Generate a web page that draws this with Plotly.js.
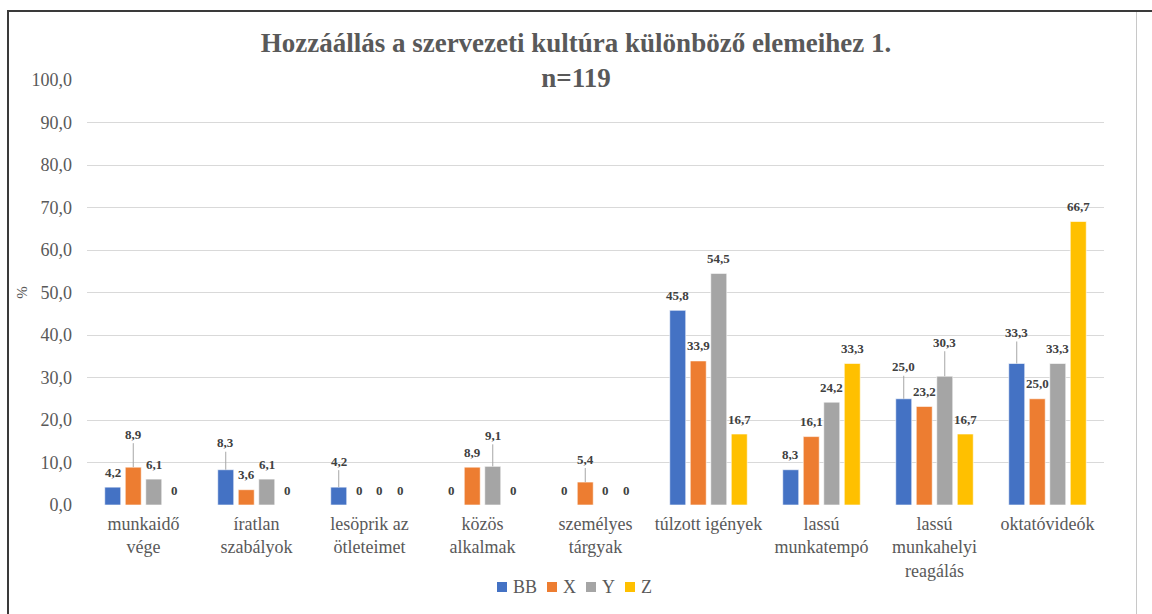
<!DOCTYPE html>
<html>
<head>
<meta charset="utf-8">
<script src="https://cdn.plot.ly/plotly-3.0.1.min.js"></script>
<style>
  html, body { margin: 0; padding: 0; background: #fff; }
  #wrap { position: relative; width: 1152px; height: 614px; overflow: hidden; }
  #chart { position: absolute; left: 0; top: 0; width: 1152px; height: 614px; }
  .bt { position: absolute; left: 7px; top: 10px; width: 1145px; height: 2px; background: #3a3a3a; }
  .bl { position: absolute; left: 7px; top: 10px; width: 2px; height: 604px; background: #3a3a3a; }
  .br { position: absolute; left: 1136px; top: 12px; width: 1px; height: 602px; background: #c8c8c8; }
</style>
</head>
<body>
<div id="wrap">
  <div id="chart"></div>
  <div class="bt"></div><div class="bl"></div><div class="br"></div>
</div>
<script>
// ---- data ----
const categories = ["munkaidő<br>vége", "íratlan<br>szabályok", "lesöprik az<br>ötleteimet", "közös<br>alkalmak", "személyes<br>tárgyak", "túlzott igények", "lassú<br>munkatempó", "lassú<br>munkahelyi<br>reagálás", "oktatóvideók"];
const seriesNames = ["BB", "X", "Y", "Z"];
const valuesBB = [4.2, 8.3, 4.2, 0, 0, 45.8, 8.3, 25.0, 33.3];
const valuesX  = [8.9, 3.6, 0, 8.9, 5.4, 33.9, 16.1, 23.2, 25.0];
const valuesY  = [6.1, 6.1, 0, 9.1, 0, 54.5, 24.2, 30.3, 33.3];
const valuesZ  = [0, 0, 0, 0, 0, 16.7, 33.3, 16.7, 66.7];
const yTickValues = [0, 10, 20, 30, 40, 50, 60, 70, 80, 90, 100];

// ---- style ----
const colors = ["#4472C4", "#ED7D31", "#A5A5A5", "#FFC000"];
const BARGAP = 0.274, GROUPGAP = 0.22;
const serif = "Liberation Serif";
const textGray = "#595959";
const defaultLift = 15;
// labels pulled up with a leader line: [seriesIndex, categoryIndex, lift px]
const leaderLabels = [[1,0,33],[0,1,27],[0,2,26],[2,3,31],[1,4,23],[0,7,32],[2,7,34],[0,8,31]];
const M = { l: 87, r: 48, t: 80, b: 109 };
const W = 1152, H = 614;
const PW = W - M.l - M.r, PH = H - M.t - M.b;
const px2x = px => (px - M.l) / PW;
const px2y = py => (H - M.b - py) / PH;

const allValues = [valuesBB, valuesX, valuesY, valuesZ];
const fmt = v => v === 0 ? "0" : v.toFixed(1).replace(".", ",");

const traces = allValues.map((vals, s) => ({
  type: "bar",
  name: seriesNames[s],
  x: categories,
  y: vals,
  marker: { color: colors[s], line: { color: "#ffffff", width: 0.6 } },
  hoverinfo: "skip",
  showlegend: false
}));

const slot = (1 - BARGAP) / seriesNames.length;
const annotations = [];
const shapes = [];
allValues.forEach((vals, s) => {
  vals.forEach((v, c) => {
    const xpos = c + (s - (seriesNames.length - 1) / 2) * slot;
    const lead = leaderLabels.find(l => l[0] === s && l[1] === c);
    const base = {
      x: xpos, y: v, xref: "x", yref: "y",
      text: "<b>" + fmt(v) + "</b>",
      font: { family: serif, size: 13, color: "#404040" }
    };
    if (lead) {
      annotations.push(Object.assign(base, {
        showarrow: true, arrowhead: 0, arrowwidth: 1, arrowcolor: "#a6a6a6",
        ax: 0, ay: -lead[2], standoff: 0, borderpad: 1
      }));
    } else {
      annotations.push(Object.assign(base, {
        showarrow: false, yanchor: "middle", yshift: defaultLift
      }));
    }
  });
});

// ---- legend (square + text, laid out by measured text width) ----
const legendFont = 18;
const ctx = document.createElement("canvas").getContext("2d");
ctx.font = legendFont + "px '" + serif + "'";
let lx = 497;
const legendY = 587, sq = 10;
seriesNames.forEach((name, s) => {
  shapes.push({
    type: "rect", xref: "paper", yref: "paper",
    x0: px2x(lx), x1: px2x(lx + sq), y0: px2y(legendY + sq / 2), y1: px2y(legendY - sq / 2),
    fillcolor: colors[s], line: { width: 0 }
  });
  annotations.push({
    xref: "paper", yref: "paper", x: px2x(lx + sq + 4), y: px2y(legendY),
    xanchor: "left", yanchor: "middle", showarrow: false,
    text: name, font: { family: serif, size: legendFont, color: textGray }
  });
  lx += sq + 4 + ctx.measureText(name).width + 12;
});

const layout = {
  width: W, height: H,
  paper_bgcolor: "#ffffff", plot_bgcolor: "#ffffff",
  margin: M,
  separators: ",.",
  barmode: "group", bargap: BARGAP, bargroupgap: GROUPGAP,
  title: {
    text: "<b>Hozzáállás a szervezeti kultúra különböző elemeihez 1.<br>n=119</b>",
    font: { family: serif, size: 27, color: textGray },
    x: 0.5, xanchor: "center", y: 0.915, yanchor: "middle"
  },
  xaxis: {
    type: "category",
    tickfont: { family: serif, size: 18, color: textGray },
    showgrid: false, showline: false, ticks: "", zeroline: false,
    ticklabelstandoff: 6,
    fixedrange: true
  },
  yaxis: {
    range: [0, 100], tickvals: yTickValues, tickformat: ".1f",
    tickfont: { family: serif, size: 18, color: textGray },
    gridcolor: "#d9d9d9", gridwidth: 1, zeroline: false, showline: false,
    ticks: "", ticklen: 0, ticklabelstandoff: 14,
    title: { text: "%", font: { family: serif, size: 15, color: textGray }, standoff: 0 },
    fixedrange: true
  },
  showlegend: false,
  annotations: annotations,
  shapes: shapes
};

Plotly.newPlot("chart", traces, layout, { staticPlot: true, displayModeBar: false });
</script>
</body>
</html>
